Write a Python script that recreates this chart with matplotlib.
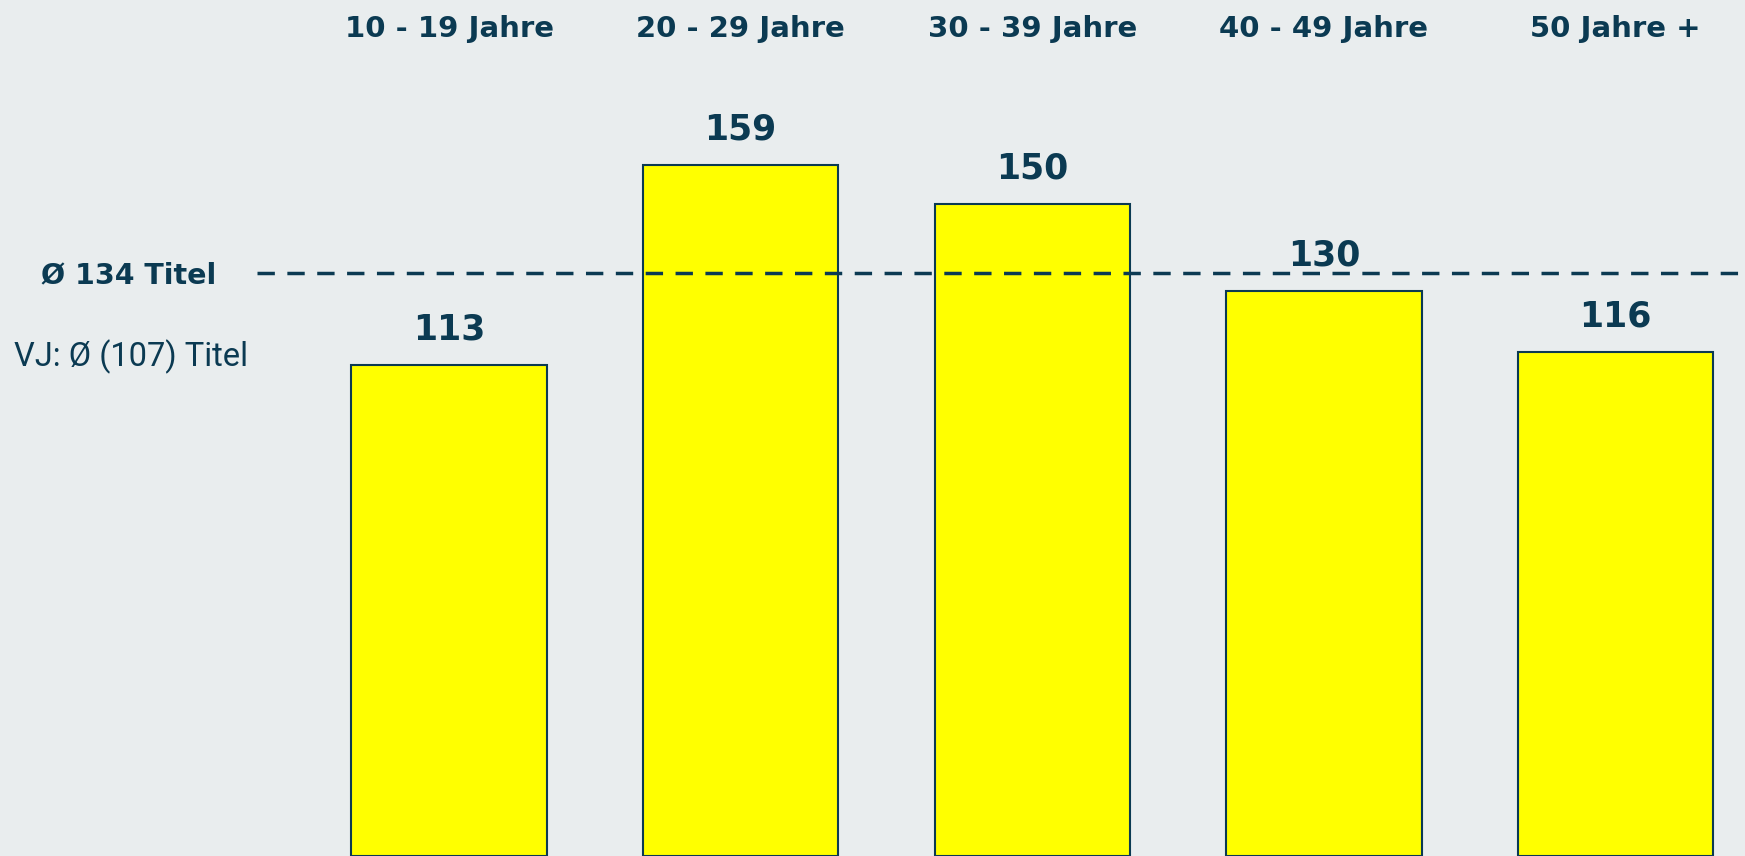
import matplotlib.pyplot as plt
import matplotlib.transforms as mtransforms

# Altersgruppen und Werte
groups = ['10 - 19 Jahre', '20 - 29 Jahre', '30 - 39 Jahre', '40 - 49 Jahre', '50 Jahre +']
values = [113, 159, 150, 130, 116]
avg_value = 134
avg_label = 'Ø 134 Titel'
prev_label = 'VJ: Ø (107) Titel'

navy = '#0b3a52'
bg = '#e9edee'

fig = plt.figure(figsize=(17.45, 8.56), dpi=100, facecolor=bg)
ax = fig.add_axes([0, 0, 1, 1])
ax.set_facecolor(bg)

x = list(range(len(groups)))
ax.bar(x, values, width=0.67, color='#ffff00', edgecolor=navy, linewidth=1.5, zorder=2)

# Werte über den Balken
for xi, v in zip(x, values):
    ax.annotate(str(v), (xi, v), xytext=(0, 13), textcoords='offset points',
                ha='center', va='bottom', fontsize=25, fontweight='bold', color=navy, zorder=3)

# Durchschnittslinie
ax.plot([-0.66, 4.5], [avg_value, avg_value], color=navy, linewidth=2.5,
        dashes=(5, 3.6), zorder=4)

ax.set_xlim(-1.54, 4.444)
ax.set_ylim(0, 196.9)
ax.axis('off')

# Kategorien oben
trans = mtransforms.blended_transform_factory(ax.transData, fig.transFigure)
for xi, g in zip(x, groups):
    ax.text(xi, 1 - 29 / 856, g, transform=trans, ha='center', va='center',
            fontsize=21, fontweight='bold', color=navy)

fig.text(41 / 1745, 1 - 275 / 856, avg_label, ha='left', va='center',
         fontsize=20.5, fontweight='bold', color=navy)
fig.text(14 / 1745, 1 - 357 / 856, prev_label, ha='left', va='center',
         fontsize=23.5, color=navy, family='Roboto')

fig.savefig('out.png', dpi=100, facecolor=bg)
